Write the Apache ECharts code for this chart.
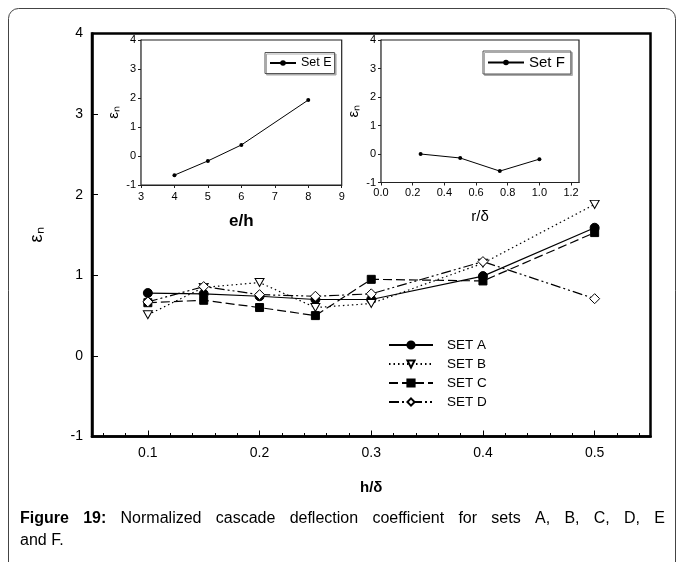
<!DOCTYPE html>
<html>
<head>
<meta charset="utf-8">
<script src="https://cdn.jsdelivr.net/npm/echarts@6/dist/echarts.min.js"></script>
<style>
html,body{margin:0;padding:0;background:#fff;}
#c{width:678px;height:562px;}
</style>
</head>
<body>
<div id="c"></div>
<script>
// ---- data ----
const hDelta = [0.1, 0.15, 0.2, 0.25, 0.3, 0.4, 0.5];
const setA = [0.78, 0.77, 0.74, 0.70, 0.70, 0.99, 1.59];
const setB = [0.51, 0.85, 0.91, 0.60, 0.65, 1.15, 1.88];
const setC = [0.66, 0.69, 0.60, 0.50, 0.95, 0.93, 1.53];
const setD = [0.67, 0.86, 0.76, 0.74, 0.77, 1.17, 0.71];
const eh = [4, 5, 6, 8];
const setE = [-0.66, -0.17, 0.38, 1.93];
const rDelta = [0.25, 0.5, 0.75, 1.0];
const setF = [0.0, -0.14, -0.60, -0.18];
const mainXTicks = [0.1, 0.2, 0.3, 0.4, 0.5];
const mainXMinor = [0.06,0.08,0.12,0.14,0.16,0.18,0.22,0.24,0.26,0.28,0.32,0.34,0.36,0.38,0.42,0.44,0.46,0.48,0.52,0.54];
const fTicks = [0, 0.2, 0.4, 0.6, 0.8, 1.0, 1.2];

const FONT = 'Liberation Sans, Arial, sans-serif';
const pair = (xs, ys) => xs.map((x, i) => [x, ys[i]]);

const chart = echarts.init(document.getElementById('c'), null, {renderer: 'canvas'});

const triDown = 'path://M0,0L10,0L5,8Z';
const diamond = 'path://M5,0L10,5L5,10L0,5Z';

function lineSeries(name, ys, symbol, size, filled, dash) {
  return {
    name, type: 'line', xAxisIndex: 0, yAxisIndex: 0,
    data: pair(hDelta, ys),
    symbol, symbolSize: size, showAllSymbol: true,
    lineStyle: {color: '#000', width: 1.2, type: dash},
    itemStyle: {color: filled ? '#000' : '#fff', borderColor: '#000', borderWidth: 1},
    emphasis: {disabled: true},
    z: 3
  };
}

// caption justified
const capWords = [
  {t: 'Figure', b: true}, {t: '19:', b: true},
  {t: 'Normalized'}, {t: 'cascade'}, {t: 'deflection'}, {t: 'coefficient'},
  {t: 'for'}, {t: 'sets'}, {t: 'A,'}, {t: 'B,'}, {t: 'C,'}, {t: 'D,'}, {t: 'E'}
];
const cv = document.createElement('canvas').getContext('2d');
const CAPSIZE = 16;
let tot = 0;
capWords.forEach(w => { cv.font = (w.b ? 'bold ' : '') + CAPSIZE + 'px ' + FONT; w.w = cv.measureText(w.t).width; tot += w.w; });
const capL = 20, capR = 665;
const gap = (capR - capL - tot) / (capWords.length - 1);
let cx = capL;
const capEls = capWords.map(w => {
  const el = {type: 'text', left: cx, top: 511, style: {text: w.t, font: (w.b ? 'bold ' : '') + CAPSIZE + 'px ' + FONT, fill: '#000'}};
  cx += w.w + gap;
  return el;
});

const option = {
  animation: false,
  backgroundColor: '#fff',
  textStyle: {fontFamily: FONT},
  grid: [
    {left: 92, top: 33.5, width: 558.5, height: 403, show: true, borderColor: '#000', borderWidth: 2.5, backgroundColor: 'transparent'},
    {left: 141, top: 40, width: 200.7, height: 145, show: true, borderColor: '#222', borderWidth: 1.2, backgroundColor: '#fff', z: 5},
    {left: 381, top: 40, width: 198, height: 142.5, show: true, borderColor: '#222', borderWidth: 1.2, backgroundColor: '#fff', z: 5}
  ],
  xAxis: [
    {gridIndex: 0, type: 'value', min: 0.05, max: 0.55,
     name: 'h/δ', nameLocation: 'middle', nameGap: 44,
     nameTextStyle: {fontSize: 15, fontWeight: 'bold', color: '#000', fontFamily: FONT},
     axisLine: {show: true, onZero: false, lineStyle: {color: '#000', width: 2.5}},
     axisTick: {show: true, inside: true, length: 6, customValues: mainXTicks, lineStyle: {color: '#000', width: 1}},
     axisLabel: {customValues: mainXTicks, fontSize: 14, color: '#000', margin: 10, formatter: v => v.toFixed(1)},
     splitLine: {show: false}},
    {gridIndex: 0, type: 'value', min: 0.05, max: 0.55, position: 'bottom',
     axisLine: {show: false, onZero: false},
     axisTick: {show: true, inside: true, length: 3.5, customValues: mainXMinor, lineStyle: {color: '#000', width: 1}},
     axisLabel: {show: false}, splitLine: {show: false}},
    {gridIndex: 1, type: 'value', min: 3, max: 9, interval: 1,
     name: 'e/h', nameLocation: 'middle', nameGap: 28,
     nameTextStyle: {fontSize: 17, fontWeight: 'bold', color: '#000', fontFamily: FONT},
     axisLine: {show: true, onZero: false, lineStyle: {color: '#222', width: 1.2}},
     axisTick: {show: true, inside: false, length: 3, lineStyle: {color: '#222'}},
     axisLabel: {fontSize: 11, color: '#000', margin: 6},
     splitLine: {show: false}},
    {gridIndex: 2, type: 'value', min: 0, max: 1.25,
     name: 'r/δ', nameLocation: 'middle', nameGap: 27,
     nameTextStyle: {fontSize: 15, color: '#000', fontFamily: FONT},
     axisLine: {show: true, onZero: false, lineStyle: {color: '#222', width: 1.2}},
     axisTick: {show: true, inside: false, length: 3, customValues: fTicks, lineStyle: {color: '#222'}},
     axisLabel: {customValues: fTicks, fontSize: 11, color: '#000', margin: 5, formatter: v => v.toFixed(1)},
     splitLine: {show: false}}
  ],
  yAxis: [
    {gridIndex: 0, type: 'value', min: -1, max: 4, interval: 1,
     name: 'εₙ', nameLocation: 'middle', nameGap: 46, nameRotate: 90,
     nameTextStyle: {fontSize: 18, color: '#000', fontFamily: FONT},
     axisLine: {show: true, onZero: false, lineStyle: {color: '#000', width: 2.5}},
     axisTick: {show: true, inside: true, length: 6, lineStyle: {color: '#000', width: 1}},
     axisLabel: {fontSize: 14, color: '#000', margin: 9},
     splitLine: {show: false}},
    {gridIndex: 1, type: 'value', min: -1, max: 4, interval: 1,
     name: 'εₙ', nameLocation: 'middle', nameGap: 20, nameRotate: 90,
     nameTextStyle: {fontSize: 15, color: '#000', fontFamily: FONT},
     axisLine: {show: true, onZero: false, lineStyle: {color: '#222', width: 1.2}},
     axisTick: {show: true, inside: false, length: 3, lineStyle: {color: '#222'}},
     axisLabel: {fontSize: 11, color: '#000', margin: 5},
     splitLine: {show: false}},
    {gridIndex: 2, type: 'value', min: -1, max: 4, interval: 1,
     name: 'εₙ', nameLocation: 'middle', nameGap: 20, nameRotate: 90,
     nameTextStyle: {fontSize: 15, color: '#000', fontFamily: FONT},
     axisLine: {show: true, onZero: false, lineStyle: {color: '#222', width: 1.2}},
     axisTick: {show: true, inside: false, length: 3, lineStyle: {color: '#222'}},
     axisLabel: {fontSize: 11, color: '#000', margin: 5},
     splitLine: {show: false}}
  ],
  legend: [
    {data: ['SET A', 'SET B', 'SET C', 'SET D'], orient: 'vertical', left: 383, top: 333,
     itemWidth: 44, itemHeight: 9, itemGap: 5,
     textStyle: {fontSize: 13.5, color: '#000', fontFamily: FONT, padding: [0, 0, 0, 9]},
     selectedMode: false},
    {data: ['Set E'], left: 265, top: 52.5, itemWidth: 26, itemHeight: 7,
     padding: [4, 3, 4, 4], borderColor: '#555', borderWidth: 1, backgroundColor: '#fff',
     shadowColor: '#aaa', shadowOffsetX: 1.5, shadowOffsetY: 1.5, shadowBlur: 0,
     textStyle: {fontSize: 12.5, color: '#000', fontFamily: FONT}, selectedMode: false, z: 10},
    {data: ['Set F'], left: 483, top: 51, itemWidth: 36, itemHeight: 7,
     padding: [4, 6, 4, 4], borderColor: '#555', borderWidth: 1, backgroundColor: '#fff',
     shadowColor: '#aaa', shadowOffsetX: 1.5, shadowOffsetY: 1.5, shadowBlur: 0,
     textStyle: {fontSize: 15, color: '#000', fontFamily: FONT}, selectedMode: false, z: 10}
  ],
  series: [
    lineSeries('SET A', setA, 'circle', 9, true, 'solid'),
    lineSeries('SET B', setB, triDown, [9, 8], false, [1.5, 3]),
    lineSeries('SET C', setC, 'rect', 8, true, [9, 4]),
    lineSeries('SET D', setD, diamond, 10, false, [10, 3, 2, 3, 2, 3]),
    {name: 'Set E', type: 'line', xAxisIndex: 2, yAxisIndex: 1, data: pair(eh, setE),
     symbol: 'circle', symbolSize: 4, lineStyle: {color: '#000', width: 1}, itemStyle: {color: '#000'}, z: 6},
    {name: 'Set F', type: 'line', xAxisIndex: 3, yAxisIndex: 2, data: pair(rDelta, setF),
     symbol: 'circle', symbolSize: 4, lineStyle: {color: '#000', width: 1}, itemStyle: {color: '#000'}, z: 6}
  ],
  graphic: [
    {type: 'rect', shape: {x: 8.5, y: 8.5, width: 667, height: 620, r: 10}, style: {fill: 'none', stroke: '#444', lineWidth: 1}, z: -1},
    ...capEls,
    {type: 'text', left: capL, top: 533, style: {text: 'and F.', font: CAPSIZE + 'px ' + FONT, fill: '#000'}}
  ]
};
chart.setOption(option);
</script>
</body>
</html>
